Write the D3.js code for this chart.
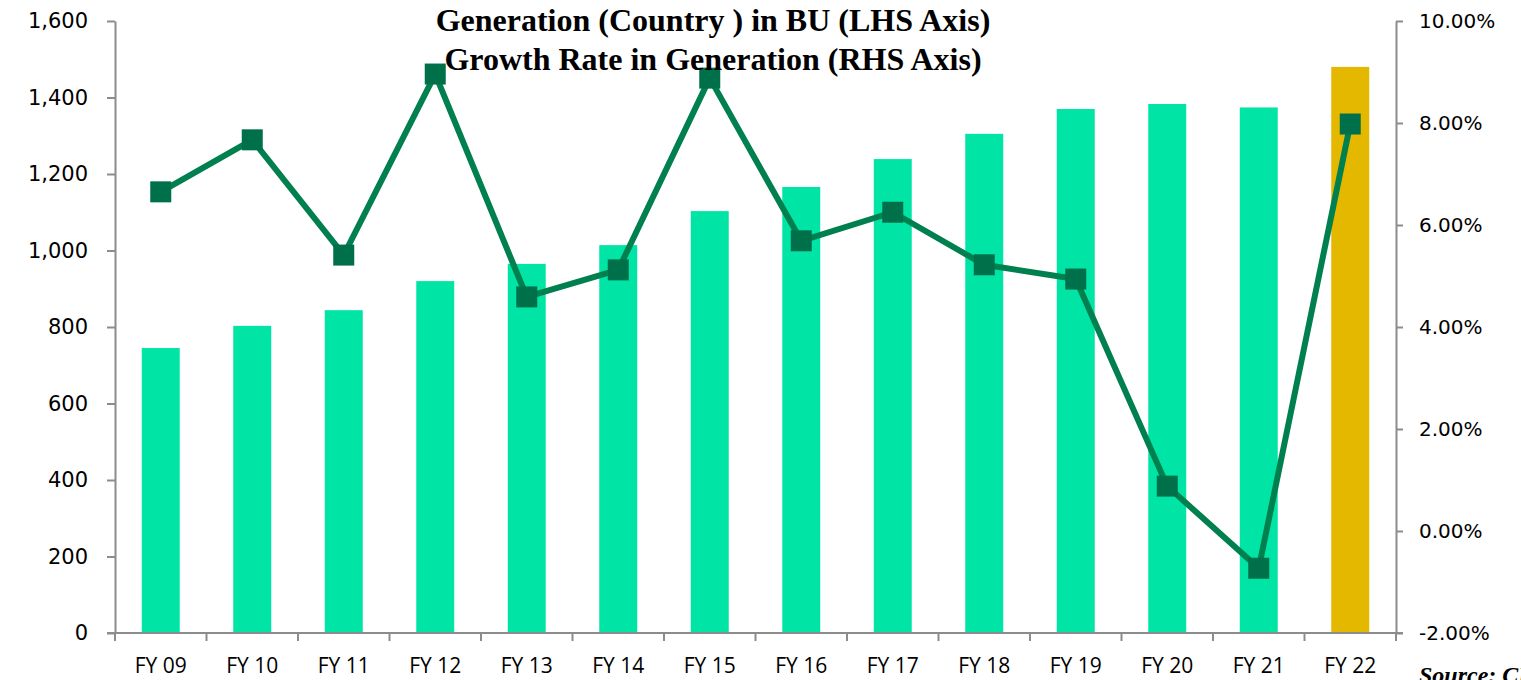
<!DOCTYPE html>
<html>
<head>
<meta charset="utf-8">
<script src="https://cdn.jsdelivr.net/npm/d3@7"></script>
<style>
  body { margin: 0; background: #fff; }
  svg { display: block; }
</style>
</head>
<body>
<div id="chart"></div>
<script>
const years = ['FY 09', 'FY 10', 'FY 11', 'FY 12', 'FY 13', 'FY 14', 'FY 15', 'FY 16', 'FY 17', 'FY 18', 'FY 19', 'FY 20', 'FY 21', 'FY 22'];
const generation = [745, 803, 844, 920, 965, 1014, 1103, 1166, 1239, 1305, 1370, 1383, 1374, 1480];
const growth = [6.65, 7.67, 5.41, 8.96, 4.59, 5.12, 8.88, 5.69, 6.25, 5.22, 4.94, 0.88, -0.73, 7.98];
const leftTicks = [0, 200, 400, 600, 800, 1000, 1200, 1400, 1600];
const rightTicks = [-2, 0, 2, 4, 6, 8, 10];
const titleLines = ['Generation (Country ) in BU (LHS Axis)', 'Growth Rate in Generation (RHS Axis)'];

const W = 1521, H = 680;
const margin = { top: 21, right: 125, bottom: 47, left: 115 };
const width = W - margin.left - margin.right;
const height = H - margin.top - margin.bottom;

const svg = d3.select('#chart').append('svg').attr('width', W).attr('height', H);
const g = svg.append('g').attr('transform', `translate(${margin.left},${margin.top})`);

const x = d3.scaleBand().domain(years).range([0, width]).paddingInner(0.585).paddingOuter(0.2925);
const band = d3.scaleBand().domain(years).range([0, width]);
const yL = d3.scaleLinear().domain([0, 1600]).range([height, 0]);
const yR = d3.scaleLinear().domain([-2, 10]).range([height, 0]);

const axisColor = '#8c8c8c';
const tickFont = 'Verdana, "DejaVu Sans", sans-serif';

// Bars
g.selectAll('.bar')
  .data(generation)
  .enter()
  .append('rect')
  .attr('x', (d, i) => x(years[i]))
  .attr('y', (d) => yL(d))
  .attr('width', x.bandwidth())
  .attr('height', (d) => height - yL(d))
  .attr('fill', (d, i) => (i === years.length - 1 ? '#E5B800' : '#00E5A5'));

// Left axis
const leftAxis = g.append('g')
  .call(d3.axisLeft(yL).tickValues(leftTicks).tickFormat(d3.format(',')).tickSize(8).tickSizeOuter(0));
leftAxis.select('.domain').attr('stroke', axisColor).attr('stroke-width', 2);
leftAxis.selectAll('.tick line').attr('stroke', axisColor).attr('stroke-width', 2);
leftAxis.selectAll('.tick text')
  .attr('x', -27)
  .attr('font-family', tickFont)
  .attr('font-size', 21)
  .attr('fill', '#000');

// Right axis
const rightAxis = g.append('g')
  .attr('transform', `translate(${width},0)`)
  .call(d3.axisRight(yR).tickValues(rightTicks).tickFormat((d) => d.toFixed(2) + '%').tickSize(7).tickSizeOuter(0));
rightAxis.select('.domain').attr('stroke', axisColor).attr('stroke-width', 2);
rightAxis.selectAll('.tick line').attr('stroke', axisColor).attr('stroke-width', 2);
rightAxis.selectAll('.tick text')
  .attr('x', 23)
  .attr('font-family', tickFont)
  .attr('font-size', 20)
  .attr('fill', '#000');

// Bottom axis: ticks at band boundaries
const bottom = g.append('g').attr('transform', `translate(0,${height})`);
bottom.append('line')
  .attr('x1', -8).attr('x2', width + 7)
  .attr('stroke', axisColor).attr('stroke-width', 2);
const bounds = years.map((d) => band(d)).concat([width]);
bottom.selectAll('.xtick')
  .data(bounds)
  .enter()
  .append('line')
  .attr('x1', (d) => d).attr('x2', (d) => d)
  .attr('y1', 0).attr('y2', 8)
  .attr('stroke', axisColor).attr('stroke-width', 2);
bottom.selectAll('.xlabel')
  .data(years)
  .enter()
  .append('text')
  .attr('x', (d) => band(d) + band.bandwidth() / 2)
  .attr('y', 40)
  .attr('text-anchor', 'middle')
  .attr('font-family', '"Liberation Sans Narrow", "Open Sans", sans-serif')
  .attr('font-size', 21)
  .attr('fill', '#000')
  .text((d) => d);

// Growth line
const line = d3.line()
  .x((d, i) => band(years[i]) + band.bandwidth() / 2)
  .y((d) => yR(d));
g.append('path')
  .datum(growth)
  .attr('fill', 'none')
  .attr('stroke', '#00804F')
  .attr('stroke-width', 6)
  .attr('stroke-linejoin', 'round')
  .attr('d', line);
g.selectAll('.marker')
  .data(growth)
  .enter()
  .append('rect')
  .attr('x', (d, i) => band(years[i]) + band.bandwidth() / 2 - 10.5)
  .attr('y', (d) => yR(d) - 10.5)
  .attr('width', 21)
  .attr('height', 21)
  .attr('fill', '#00704A');

// Title
svg.append('g')
  .selectAll('text')
  .data(titleLines)
  .enter()
  .append('text')
  .attr('x', 713)
  .attr('y', (d, i) => 31 + i * 39)
  .attr('text-anchor', 'middle')
  .attr('font-family', '"Liberation Serif", "DejaVu Serif", serif')
  .attr('font-weight', 'bold')
  .attr('font-size', 32)
  .attr('fill', '#000')
  .text((d) => d);

// Source note (cut off at the edge, as in the original)
svg.append('text')
  .attr('x', 1419)
  .attr('y', 683)
  .attr('font-family', '"Liberation Serif", serif')
  .attr('font-weight', 'bold')
  .attr('font-style', 'italic')
  .attr('font-size', 24)
  .attr('fill', '#000')
  .text('Source: CEA');
</script>
</body>
</html>
